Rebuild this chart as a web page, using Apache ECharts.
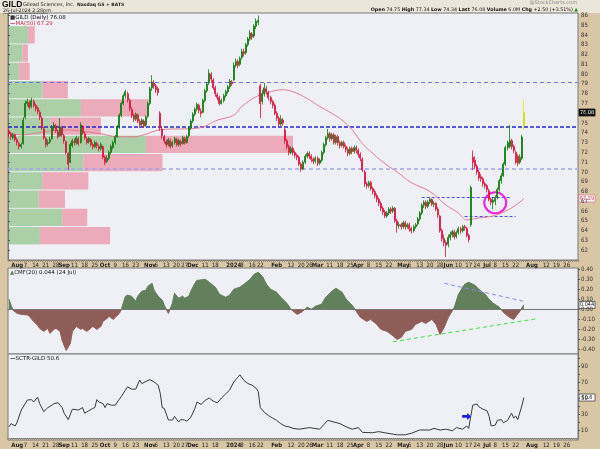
<!DOCTYPE html>
<html><head><meta charset="utf-8">
<script src="https://cdn.jsdelivr.net/npm/echarts@6/dist/echarts.min.js"></script>
<style>html,body{margin:0;padding:0;background:#d8c6a4}#c{width:600px;height:449px}</style>
</head><body><div id="c"></div>
<script>
// ---------- categories (trading days) ----------
const holidays = ['2023-09-04','2023-11-23','2023-12-25','2024-01-01','2024-01-15','2024-02-19','2024-03-29','2024-05-27','2024-06-19','2024-07-04','2024-09-02'];
const firstDay = '2023-07-26', lastDay = '2024-09-03';
const dates = [];
(function(){let d=new Date(firstDay+'T00:00:00Z');const e=new Date(lastDay+'T00:00:00Z');
 while(d<=e){const s=d.toISOString().slice(0,10);const w=d.getUTCDay();if(w!==0&&w!==6&&holidays.indexOf(s)<0)dates.push(s);d.setUTCDate(d.getUTCDate()+1);}})();

// ---------- date tick labels ----------
const tickDates = ['2023-08-01','2023-08-07','2023-08-14','2023-08-21','2023-08-28','2023-09-01','2023-09-11','2023-09-18','2023-09-25','2023-10-02','2023-10-09','2023-10-16','2023-10-23','2023-11-01','2023-11-06','2023-11-13','2023-11-20','2023-11-27','2023-12-01','2023-12-11','2023-12-18','2024-01-02','2024-01-08','2024-01-16','2024-01-22','2024-02-01','2024-02-12','2024-02-20','2024-02-26','2024-03-01','2024-03-11','2024-03-18','2024-03-25','2024-04-01','2024-04-08','2024-04-15','2024-04-22','2024-05-01','2024-05-06','2024-05-13','2024-05-20','2024-05-28','2024-06-03','2024-06-10','2024-06-17','2024-06-24','2024-07-01','2024-07-08','2024-07-15','2024-07-22','2024-08-01','2024-08-12','2024-08-19','2024-08-26'];
const tickTexts = ['Aug','7','14','21','28','Sep','11','18','25','Oct','9','16','23','Nov','6','13','20','27','Dec','11','18','2024','8','16','22','Feb','12','20','26','Mar','11','18','25','Apr','8','15','22','May','6','13','20','28','Jun','10','17','24','Jul','8','15','22','Aug','12','19','26'];
const tickBold = ['Aug','Sep','Oct','Nov','Dec','2024','Feb','Mar','Apr','May','Jun','Jul'];

const priceTicks = [62,63,64,65,66,67,68,69,70,71,72,73,74,75,76,77,78,79,80,81,82,83,84,85,86];
const cmfTicks = [-0.4,-0.3,-0.2,-0.1,0,0.1,0.2,0.3,0.4];
const sctrLabels = [10,30,50,70,90];
const sctrTicks = [10,20,30,40,50,60,70,80,90,100];

// ---------- daily candles [open, close, low, high] ----------
const ohlc = [
[74.2,73.9,73.6,74.4],[73.9,73.6,73.3,74.1],[73.5,73.8,73.3,74.0],[73.8,73.3,73.1,73.9],[73.3,73.0,72.7,73.5],[72.9,72.6,72.3,73.1],[72.6,72.8,72.4,73.0],[72.9,75.3,72.8,75.6],[75.6,77.0,75.4,77.3],[77.0,77.2,76.7,77.5],
[77.1,76.6,76.4,77.3],[76.7,77.3,76.5,77.6],[77.2,76.8,76.6,77.4],[76.8,76.5,76.2,77.0],[76.5,76.2,75.9,76.7],[76.1,75.6,75.3,76.3],[75.5,74.5,74.3,75.7],[74.4,73.5,73.3,74.6],[73.4,72.8,72.5,73.6],[72.9,73.0,72.6,73.3],
[73.1,73.3,72.9,73.6],[73.4,74.5,73.3,74.8],[74.5,74.8,74.2,75.1],[74.7,74.2,74.0,74.9],[74.1,73.6,73.4,74.3],[73.7,74.6,73.6,75.5],[74.5,73.8,73.6,74.7],[73.7,73.2,72.9,73.9],[73.1,72.0,71.8,73.2],[71.9,70.8,70.2,72.0],
[71.0,72.8,70.9,73.0],[72.7,73.2,72.5,73.4],[73.1,73.0,72.7,73.4],[73.0,73.5,72.8,73.7],[73.4,72.9,72.7,73.6],[73.0,74.8,72.9,75.1],[74.6,74.0,73.8,74.8],[73.9,73.5,73.3,74.1],[73.4,73.0,72.8,73.6],[73.1,73.4,72.9,73.6],
[73.3,72.8,72.6,73.5],[72.8,72.6,72.3,73.0],[72.6,73.0,72.4,73.2],[72.9,72.7,72.4,73.1],[72.6,72.4,72.1,72.8],[72.4,72.8,72.2,73.0],[72.6,71.5,71.3,72.7],[71.5,71.0,70.7,71.7],[71.1,71.4,70.9,71.7],[71.4,72.0,71.2,72.2],
[72.0,72.6,71.8,72.8],[72.5,73.0,72.3,73.2],[73.0,73.6,72.8,73.8],[73.6,74.6,73.5,74.8],[74.6,75.8,74.4,76.0],[75.8,77.0,75.6,77.2],[77.0,77.8,76.8,78.0],[77.8,78.2,77.5,78.4],[78.0,77.4,77.1,78.2],[77.3,76.5,76.2,77.5],
[76.4,75.8,75.5,76.6],[75.8,75.4,75.1,76.0],[75.4,75.9,75.2,76.1],[75.8,75.2,75.0,76.0],[75.2,74.8,74.5,75.4],[74.9,75.3,74.6,75.5],[75.2,74.7,74.5,75.4],[74.8,75.6,74.6,75.8],[75.7,77.0,75.5,77.2],[77.0,78.5,76.8,78.7],
[78.6,79.2,78.3,79.9],[79.1,78.8,78.5,79.4],[78.8,78.4,78.1,79.0],[78.5,78.1,77.8,78.7],[76.0,74.5,74.2,76.2],[74.4,73.7,73.4,74.6],[73.6,73.2,72.9,73.8],[73.1,72.8,72.5,73.3],[72.8,73.3,72.6,73.5],[73.2,72.6,72.4,73.4],
[72.7,73.0,72.5,73.2],[73.0,73.4,72.8,73.6],[73.3,72.8,72.6,73.5],[72.8,73.2,72.6,73.4],[73.1,72.9,72.6,73.3],[72.9,73.5,72.8,73.7],[73.4,73.0,72.8,73.6],[73.0,73.6,72.9,73.8],[73.7,74.5,73.5,74.7],[74.5,75.2,74.3,75.4],
[75.2,75.9,75.0,76.1],[75.9,76.4,75.7,76.6],[76.4,76.9,76.2,77.1],[76.8,76.3,76.0,77.0],[76.2,76.0,75.6,76.5],[76.1,77.3,76.0,77.5],[77.3,78.3,77.1,78.5],[78.3,79.0,78.1,79.2],[79.1,80.1,78.9,80.5],[80.0,79.5,79.2,80.2],
[79.4,78.6,78.4,79.6],[78.6,78.0,77.7,78.8],[77.9,77.6,77.3,78.1],[77.6,77.0,76.8,77.8],[77.0,77.3,76.9,77.5],[77.3,77.8,77.1,78.0],[77.8,78.2,77.6,78.4],[78.2,78.7,78.0,78.9],[78.7,79.3,78.5,79.5],[79.2,79.0,78.8,79.4],
[79.4,80.9,79.3,81.2],[80.9,81.3,80.7,81.6],[81.3,80.9,80.6,81.5],[81.0,81.6,80.8,81.8],[81.7,82.3,81.5,82.6],[82.3,82.1,81.8,82.6],[82.2,83.0,82.0,83.2],[83.0,83.6,82.8,83.8],[83.6,84.2,83.4,84.5],[84.1,83.8,83.5,84.3],
[83.9,84.9,83.7,85.1],[84.9,85.4,84.6,85.7],[85.3,85.5,85.0,86.0],[78.8,77.0,75.5,79.0],[77.2,78.0,76.9,78.4],[78.0,78.6,77.7,79.1],[78.5,78.2,77.9,78.8],[78.1,77.6,77.3,78.3],[77.6,77.2,76.9,77.8],[77.2,76.8,76.5,77.4],
[76.8,76.0,75.8,77.0],[76.0,75.5,75.2,76.2],[75.5,74.9,74.6,75.7],[74.9,75.4,74.7,75.8],[75.3,75.0,74.7,75.5],[74.3,73.2,72.9,74.5],[73.2,72.6,72.3,73.4],[72.6,72.0,71.7,72.8],[72.0,72.4,71.8,72.6],[72.4,72.0,71.7,72.6],
[72.0,71.7,71.4,72.2],[71.7,71.5,71.2,71.9],[71.5,70.8,70.6,71.7],[70.8,70.3,70.0,71.0],[70.3,71.0,70.2,71.2],[71.0,71.6,70.8,71.8],[71.6,71.9,71.4,72.1],[71.9,71.6,71.3,72.1],[71.6,71.3,71.0,71.8],[71.3,71.1,70.8,71.5],
[71.1,71.4,70.9,71.6],[71.4,70.9,70.6,71.6],[70.9,71.2,70.7,71.4],[71.2,72.0,71.0,72.2],[72.0,72.8,71.8,73.0],[72.8,73.5,72.6,73.7],[73.5,73.9,73.3,74.4],[73.9,73.4,73.1,74.1],[73.4,73.8,73.2,74.0],[73.8,73.0,72.8,74.0],
[73.0,73.6,72.8,73.8],[73.6,73.0,72.7,73.8],[73.0,72.7,72.4,73.2],[72.7,73.0,72.5,73.2],[73.0,72.6,72.4,73.2],[72.6,72.3,72.0,72.8],[72.3,71.9,71.6,72.5],[71.9,72.4,71.7,72.6],[72.4,72.1,71.8,72.6],[72.1,72.5,71.9,72.7],
[72.5,72.2,71.9,72.7],[72.2,71.8,71.5,72.4],[71.8,71.4,71.1,72.0],[71.3,70.2,70.0,71.5],[70.0,68.8,68.5,70.2],[68.8,68.6,68.3,69.0],[68.6,68.9,68.4,69.1],[68.9,68.3,68.1,69.1],[68.3,68.0,67.7,68.5],[68.0,67.6,67.3,68.2],
[67.6,67.2,66.9,67.8],[67.2,66.8,66.5,67.4],[66.8,66.3,66.0,67.0],[66.3,65.9,65.6,66.5],[65.9,65.5,65.3,66.1],[65.5,65.8,65.3,66.0],[65.8,66.2,65.6,66.4],[66.2,66.0,65.7,66.4],[66.0,66.3,65.8,66.5],[66.3,65.0,64.8,66.4],
[65.0,64.5,63.8,65.2],[64.5,64.6,64.2,64.9],[64.6,64.4,64.1,64.8],[64.4,64.8,64.2,65.0],[64.8,64.4,64.1,65.0],[64.4,64.6,64.2,64.8],[64.6,64.2,63.9,64.8],[64.2,64.0,63.7,64.4],[64.0,64.4,63.8,64.6],[64.4,64.6,64.2,64.8],
[64.7,65.2,64.5,65.4],[65.2,65.8,65.0,66.0],[65.8,66.6,65.6,66.8],[66.6,66.9,66.3,67.1],[66.9,66.5,66.2,67.1],[66.5,66.9,66.3,67.1],[66.9,67.2,66.7,67.4],[67.2,66.7,66.5,67.3],[66.7,66.8,66.4,67.0],[66.8,66.2,66.0,66.9],
[66.2,65.6,65.3,66.4],[65.5,64.0,63.8,65.6],[64.0,63.2,62.9,64.2],[63.2,62.8,62.4,63.6],[62.8,62.5,61.3,63.0],[62.6,63.3,62.3,63.6],[63.3,63.6,63.0,63.9],[63.6,63.9,63.3,64.1],[63.9,63.4,63.1,64.1],[63.4,63.8,63.2,64.0],
[63.8,64.2,63.6,64.4],[64.2,64.0,63.7,64.4],[64.0,64.4,63.8,64.6],[64.4,64.3,64.0,64.6],[64.2,63.5,63.3,64.4],[63.5,63.1,62.8,63.7],[64.6,68.4,64.4,68.6],[71.5,71.0,70.2,72.2],[71.2,70.6,70.3,71.6],[70.6,70.0,69.7,70.8],
[70.0,69.4,69.1,70.2],[69.5,69.3,69.0,69.8],[69.3,68.8,68.5,69.5],[68.8,68.6,68.3,69.0],[68.6,68.2,67.9,68.8],[68.1,67.2,67.0,68.3],[67.2,66.9,66.6,67.4],[66.9,67.1,66.2,67.4],[67.0,67.3,66.6,67.6],[67.4,68.2,67.2,68.4],
[68.2,69.1,68.0,69.3],[69.1,69.6,68.8,69.9],[69.6,70.8,69.5,71.0],[70.8,72.5,70.6,72.7],[72.5,73.0,72.2,73.2],[72.6,73.2,72.4,74.8],[73.2,72.6,72.3,73.4],[72.6,72.2,71.9,72.8],[72.0,71.0,70.8,72.2],[71.6,70.9,70.6,71.8],
[71.0,71.5,70.8,71.8],[71.4,73.58,71.2,73.8],[74.75,76.08,74.34,77.34]
];

// ---------- MA(50) [day index, value] ----------
const maIdx = [0,7,17,28,45,53,61,66,74,93,102,110,114,121,128,134,139,146,152,158,163,168,173,178,185,190,197,206,214,220,224,230,237,243,248,252];
const maVal = [73.9,73.8,74.1,74.3,73.9,73.6,73.6,73.8,74.3,74.5,75.3,75.8,76.7,77.7,78.2,78.4,78.2,77.5,76.7,76.0,75.3,74.3,72.9,71.9,70.7,70.0,68.9,68.0,66.6,65.8,65.1,65.3,65.5,66.0,66.6,67.29];

// ---------- volume by price zones ----------
const vbpLow  = [62.6,64.47,66.33,68.2,70.07,71.93,73.8,75.67,77.53,79.4,81.27,83.13];
const vbpHigh = [64.37,66.24,68.1,69.97,71.84,73.7,75.57,77.44,79.3,81.17,83.04,84.9];
const vbpUp   = [56,95,54,60,132,242,74,128,61,19,25,35];
const vbpDown = [123,44,46,81,139,258,89,119,44,19,10,12];

// ---------- annotations ----------
const hLines = [79.2, 74.6, 70.3];
const seg1 = {from:202, to:246, y:67.4};
const seg2 = {from:223, to:248, y:65.5};
const circleAt = {i:238, y:66.85};

// ---------- CMF(20) ----------
const cmfIdx = [0,1,2,4,6,9,10,12,14,15,17,19,20,22,23,25,26,28,30,31,33,35,36,38,40,41,43,45,46,48,49,51,53,54,55,57,58,60,62,63,65,67,68,70,71,73,75,76,78,80,81,83,85,86,88,89,91,92,93,96,98,101,103,106,108,110,113,115,118,120,122,124,126,128,131,133,136,138,141,143,146,148,150,153,155,158,160,163,165,168,170,172,175,177,180,182,185,187,190,192,194,197,199,202,204,207,209,211,213,215,218,220,223,225,228,230,233,235,237,240,242,245,247,250,252];
const cmfVal = [0.10,0.04,-0.01,-0.04,-0.05,-0.055,-0.07,-0.12,-0.16,-0.19,-0.22,-0.19,-0.24,-0.20,-0.19,-0.22,-0.31,-0.41,-0.34,-0.22,-0.17,-0.20,-0.19,-0.22,-0.19,-0.17,-0.20,-0.17,-0.12,-0.09,-0.07,-0.10,-0.06,-0.04,0.0,0.13,0.14,0.13,0.08,0.13,0.18,0.19,0.23,0.26,0.19,0.13,0.09,0.04,-0.04,0.06,0.16,0.11,0.13,0.11,0.13,0.18,0.26,0.29,0.29,0.30,0.27,0.22,0.15,0.12,0.14,0.20,0.22,0.25,0.30,0.35,0.37,0.33,0.25,0.20,0.17,0.12,0.06,0.0,-0.05,-0.03,0.02,0.0,0.03,0.05,0.12,0.18,0.21,0.17,0.10,0.04,-0.02,-0.08,-0.12,-0.10,-0.15,-0.20,-0.22,-0.25,-0.30,-0.28,-0.22,-0.20,-0.15,-0.12,-0.14,-0.10,-0.15,-0.25,-0.18,-0.08,0.02,0.15,0.25,0.27,0.24,0.20,0.15,0.10,0.06,0.02,-0.03,-0.08,-0.10,-0.02,0.044];
const cmfUpTrend = {i1:188, v1:-0.324, i2:259, v2:-0.092};
const cmfDownTrend = {i1:213, v1:0.26, i2:252, v2:0.08};

// ---------- SCTR ----------
const sctrIdx = [0,1,3,4,6,9,11,12,14,15,17,19,21,22,24,26,27,29,31,34,36,37,39,41,42,43,44,46,47,48,50,52,53,55,57,58,60,62,64,65,68,69,71,73,74,75,76,78,80,81,83,84,86,87,89,91,92,94,96,98,100,102,104,106,108,110,112,113,115,117,119,121,122,123,125,127,129,131,133,135,137,139,142,147,152,156,159,162,165,168,171,173,178,181,185,190,194,197,201,206,208,211,214,217,219,222,224,225,226,227,229,230,232,234,235,236,238,239,241,242,244,246,247,248,249,251,252];
const sctrVal = [14,18,15,20,35,47.5,48,45,51,43,33,38,41,43,44,38,31,23,36,35,38,31,34,37,38,48,45,43,38,43,41,41,45,52,60,64,61,61,72.5,68,72,73,70,66,56,38,37,22.5,22.5,27,20,23,22.5,21,26,37,45,42,47,50,46,44,50,55,60,70,76,79,72,68,66,62,58,38,32,28,25,22,18,15,14,12,11,13,11,22,20,18,14,11,13,7,6.6,8,6,4,4,6,10,10,12,10,11,9,13,11,15,12,27,41,42.5,39,36,34,27,15,16,22,23,19,22,31,25,27.5,23,40,50.6];
const arrowAt = {i:224, v:27};

// ---------- last-value boxes ----------
const lastBoxes = [
  {axis:0, value:76.08, text:'76.08', bg:'#111', fg:'#fff', border:'#111'},
  {axis:0, value:67.29, text:'67.29', bg:'#fff', fg:'#c0304a', border:'#e07c90'},
  {axis:1, value:0.044, text:'0.044', bg:'#fff', fg:'#111', border:'#444'},
  {axis:2, value:50.6, text:'50.6', bg:'#fff', fg:'#111', border:'#444'}
];

// ---------- build ----------
const tickMap = new Map(tickDates.map((d,k)=>[d,tickTexts[k]]));
const LF = "'Liberation Sans Narrow','DejaVu Sans Condensed','Liberation Sans'";
const DF = "'DejaVu Sans'";
const SF = "'Liberation Sans'";
const pairs = (idx, val) => idx.map((i,k)=>[dates[i], val[k]]);
const candleData = ohlc.map((r,k)=> k===ohlc.length-1 ? {value:r, itemStyle:{color:'#109010', borderColor:'#e8e800'}} : r);

function dateAxis(g, show){
  return {type:'category', gridIndex:g, data:dates, boundaryGap:true,
    axisLine:{show:true, lineStyle:{color:'#777', width:1}},
    axisTick:{show:show, interval:0, length:2, lineStyle:{color:'#9a8f7a'}},
    axisLabel:{show:show, interval:(i,v)=>tickMap.has(v), margin:2, fontSize:6, fontFamily:LF, color:'#222',
      formatter:v=>{const t=tickMap.get(v); if(!t) return ''; return tickBold.indexOf(t)>=0 ? '{b|'+t+'}' : t;},
      rich:{b:{fontWeight:'bold', fontSize:6, fontFamily:LF, color:'#222'}}},
    splitLine:{show:false}};
}
function valAxisBase(g){
  return {type:'value', gridIndex:g, position:'right', splitLine:{show:false},
    axisLine:{show:true, lineStyle:{color:'#777'}},
    axisTick:{show:true, length:2, lineStyle:{color:'#555'}},
    axisLabel:{fontSize:6, fontFamily:LF, color:'#333', margin:3}};
}

const yPrice = valAxisBase(0); yPrice.min=61; yPrice.max=86.25; yPrice.interval=1;
yPrice.axisLabel.formatter = v => (priceTicks.indexOf(Math.round(v*100)/100)>=0 ? String(v) : '');
const yCmf = valAxisBase(1); yCmf.min=-0.447; yCmf.max=0.413;
yCmf.axisLabel.customValues = cmfTicks; yCmf.axisTick.customValues = cmfTicks;
yCmf.axisLabel.formatter = v => (cmfTicks.some(t=>Math.abs(t-v)<1e-6) ? v.toFixed(2) : '');
const ySctr = valAxisBase(2); ySctr.min=-2.5; ySctr.max=105;
ySctr.axisLabel.customValues = sctrLabels; ySctr.axisTick.customValues = sctrTicks;
ySctr.axisLabel.formatter = v => (sctrLabels.indexOf(v)>=0 ? String(v) : '');

const gridStyle = {show:true, backgroundColor:'#eff0f5', borderColor:'#7a7a7a', borderWidth:1, left:8, right:22};

const graphics = [
  {type:'rect', shape:{x:0,y:0,width:600,height:13}, style:{fill:'#ebe6da'}, z:-1, silent:true},
  {type:'text', left:2, top:0.5, style:{text:'GILD', font:'bold 8.5px '+SF, fill:'#111'}},
  {type:'text', left:23, top:2, style:{text:'Gilead Sciences, Inc.', font:'5px '+DF, fill:'#222'}},
  {type:'text', left:77, top:2.5, style:{text:'Nasdaq GS + BATS', font:'bold 4.5px '+DF, fill:'#222'}},
  {type:'text', left:3, top:8, style:{text:'26-Jul-2024 2:28pm', font:'4.8px '+DF, fill:'#222'}},
  {type:'rect', shape:{x:3,y:13,width:45,height:0.6}, style:{fill:'#444'}},
  {type:'text', right:23, top:0.5, style:{text:'@StockCharts.com', font:'5px '+DF, fill:'#888'}},
  {type:'text', right:22, top:7.5, style:{
    text:'{b|Open} 74.75 {b|High} 77.34 {b|Low} 74.34 {b|Last} 76.08 {b|Volume} 6.0M {b|Chg} +2.50 (+3.51%) {g|▲}',
    font:'4.8px '+DF, fill:'#111',
    rich:{b:{font:'bold 4.8px '+DF, fill:'#111'}, g:{font:'4.8px '+DF, fill:'#109010'}}}},
  {type:'text', left:10, top:14.5, z:10, style:{text:'{i|■}GILD (Daily) 76.08', font:'5.5px '+DF, fill:'#111', rich:{i:{font:'5.5px '+DF, fill:'#333'}}}},
  {type:'text', left:10, top:20.5, z:10, style:{text:'{l|—}MA(50) 67.29', font:'5.5px '+DF, fill:'#d0304a', rich:{l:{font:'bold 5.5px '+DF, fill:'#d0304a'}}}},
  {type:'text', left:10, top:269.5, z:10, style:{text:'{i|▲}CMF(20) 0.044 (24 Jul)', font:'5.5px '+DF, fill:'#111', rich:{i:{font:'5.5px '+DF, fill:'#62805c'}}}},
  {type:'text', left:10, top:356, z:10, style:{text:'{l|—}SCTR-GILD 50.6', font:'5.5px '+DF, fill:'#111', rich:{l:{font:'bold 5.5px '+DF, fill:'#333'}}}}
];

const option = {
  animation:false,
  backgroundColor:'#d8c6a4',
  grid:[
    Object.assign({top:13, height:247}, gridStyle),
    Object.assign({top:268, height:86}, gridStyle),
    Object.assign({top:354, height:86}, gridStyle)
  ],
  xAxis:[dateAxis(0,true), {type:'value', gridIndex:0, min:0, max:1000, show:false, position:'top'}, dateAxis(1,false), dateAxis(2,true)],
  yAxis:[yPrice, yCmf, ySctr],
  visualMap:[{type:'piecewise', show:false, seriesIndex:3, dimension:1,
    pieces:[{gt:-5, lte:0, color:'#8e5d58'},{gt:0, lte:5, color:'#62805c'}]}],
  series:[
    {type:'custom', name:'vbp', xAxisIndex:1, yAxisIndex:0, z:0, zlevel:0, silent:true,
      data: vbpLow.map((l,k)=>[vbpUp[k], l, vbpHigh[k], vbpDown[k]]),
      renderItem:(params, api)=>{
        const up=api.value(0), lo=api.value(1), hi=api.value(2), dn=api.value(3);
        const a=api.coord([0,hi]), b=api.coord([up,lo]), c=api.coord([up+dn,lo]);
        return {type:'group', children:[
          {type:'rect', shape:{x:a[0], y:a[1], width:b[0]-a[0], height:b[1]-a[1]}, style:{fill:'#abcfa6'}},
          {type:'rect', shape:{x:b[0], y:a[1], width:c[0]-b[0], height:b[1]-a[1]}, style:{fill:'#ebabbb'}}
        ]};
      }},
    {type:'candlestick', name:'GILD', xAxisIndex:0, yAxisIndex:0, zlevel:1, z:3, barWidth:1.5,
      itemStyle:{color:'#0d7d0d', color0:'#e0103c', borderColor:'#0d7d0d', borderColor0:'#e0103c', borderWidth:0.8},
      data:candleData,
      markLine:{silent:true, symbol:'none', animation:false,
        label:{show:false},
        data:[
          {yAxis:hLines[0], lineStyle:{color:'#6f6ff5', type:[4,3], width:1}},
          {yAxis:hLines[1], lineStyle:{color:'#2626c8', type:[4,2], width:1.5}},
          {yAxis:hLines[2], lineStyle:{color:'#a2a2f5', type:[4,3], width:1.5}},
          [{coord:[dates[seg1.from], seg1.y], lineStyle:{color:'#4a4af0', type:[3,2], width:1}},{coord:[dates[seg1.to], seg1.y]}],
          [{coord:[dates[seg2.from], seg2.y], lineStyle:{color:'#4a4af0', type:[3,2], width:1}},{coord:[dates[seg2.to], seg2.y]}]
        ]},
      markPoint:{silent:true, data:[{coord:[dates[circleAt.i], circleAt.y], symbol:'circle', symbolSize:[22,21],
        itemStyle:{color:'rgba(0,0,0,0)', borderColor:'#f020e0', borderWidth:2}, label:{show:false}}]}
    },
    {type:'line', name:'MA50', xAxisIndex:0, yAxisIndex:0, zlevel:1, z:2, smooth:0.4, showSymbol:false,
      lineStyle:{color:'#e07c90', width:1}, itemStyle:{color:'#e07c90'},
      data:pairs(maIdx, maVal)},
    {type:'line', name:'CMF', xAxisIndex:2, yAxisIndex:1, showSymbol:false, z:2,
      lineStyle:{width:0.8}, areaStyle:{opacity:1},
      data:pairs(cmfIdx, cmfVal),
      markLine:{silent:true, symbol:'none', label:{show:false}, data:[
        {yAxis:0, lineStyle:{color:'#777', type:'solid', width:1}},
        [{coord:[dates[cmfUpTrend.i1], cmfUpTrend.v1], lineStyle:{color:'#3ee03e', type:[4,3], width:1}},{coord:[dates[cmfUpTrend.i2], cmfUpTrend.v2]}],
        [{coord:[dates[cmfDownTrend.i1], cmfDownTrend.v1], lineStyle:{color:'#8a8af5', type:[4,3], width:1}},{coord:[dates[cmfDownTrend.i2], cmfDownTrend.v2]}]
      ]}},
    {type:'line', name:'SCTR', xAxisIndex:3, yAxisIndex:2, showSymbol:false, z:2,
      lineStyle:{color:'#3a3a3a', width:1}, itemStyle:{color:'#3a3a3a'},
      data:pairs(sctrIdx, sctrVal),
      markPoint:{silent:true, data:[{coord:[dates[arrowAt.i], arrowAt.v], symbol:'path://M0,3 L6,3 L6,0 L11,5 L6,10 L6,7 L0,7 Z',
        symbolSize:[9,7], itemStyle:{color:'#1b1bf0'}, label:{show:false}}]}}
  ],
  graphic: graphics
};
const chart = echarts.init(document.getElementById('c'), null, {renderer:'canvas'});
chart.setOption(option);

// last-value boxes on the right axes, positioned via the axes' own scales
const boxEls = lastBoxes.map(b=>{
  const y = chart.convertToPixel({yAxisIndex:b.axis}, b.value);
  return {type:'group', x:579, y:y, z:20, children:[
    {type:'rect', shape:{x:0, y:-3.5, width:16, height:7}, style:{fill:b.bg, stroke:b.border, lineWidth:0.8}},
    {type:'text', x:8, y:0, style:{text:b.text, font:'5.5px '+LF, fill:b.fg, align:'center', verticalAlign:'middle'}}
  ]};
});
chart.setOption({graphic: graphics.concat(boxEls)});
</script>
</body></html>
